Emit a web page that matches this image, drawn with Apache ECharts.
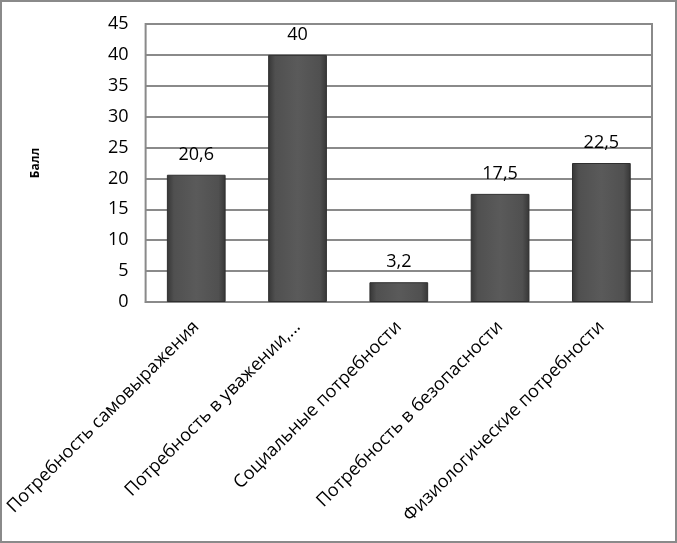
<!DOCTYPE html>
<html>
<head>
<meta charset="utf-8">
<script src="https://cdn.jsdelivr.net/npm/echarts@6/dist/echarts.min.js"></script>
<style>
  html, body { margin: 0; padding: 0; background: #fff; }
  #chart { width: 677px; height: 543px; box-sizing: border-box; border: 2px solid #8a8a8a; }
</style>
</head>
<body>
<div id="chart"></div>
<script>
// данные диаграммы
const categories = [
  'Потребность самовыражения',
  'Потребность в уважении,...',
  'Социальные потребности',
  'Потребность в безопасности',
  'Физиологические потребности'
]
const scores = [20.6, 40, 3.2, 17.5, 22.5]
const axisName = 'Балл'

const font = 'Open Sans'

const chart = echarts.init(document.getElementById('chart'))
const option = {
  animation: false,
  grid: {
    left: 143,
    right: 23,
    top: 22,
    bottom: 239,
    show: true,
    borderColor: '#8a8a8a',
    borderWidth: 2
  },
  xAxis: {
    type: 'category',
    data: categories,
    axisLine: { lineStyle: { color: '#8a8a8a', width: 2 } },
    axisTick: { show: false },
    axisLabel: {
      rotate: 45,
      margin: 22,
      color: '#000',
      fontFamily: font,
      fontSize: 18
    }
  },
  yAxis: {
    type: 'value',
    min: 0,
    max: 45,
    interval: 5,
    name: axisName,
    nameLocation: 'middle',
    nameGap: 104,
    nameTextStyle: { fontFamily: font, fontSize: 12, fontWeight: 'bold', color: '#000' },
    axisLine: { show: false },
    axisTick: { show: false },
    splitLine: { lineStyle: { color: '#8a8a8a', width: 2 } },
    axisLabel: { color: '#000', fontFamily: font, fontSize: 18, margin: 17 }
  },
  series: [
    {
      type: 'bar',
      data: scores,
      barWidth: '58%',
      itemStyle: {
        borderColor: '#2f2f2f',
        borderWidth: 1,
        color: new echarts.graphic.LinearGradient(0, 0, 1, 0, [
          { offset: 0, color: '#363636' },
          { offset: 0.12, color: '#505050' },
          { offset: 0.5, color: '#5a5a5a' },
          { offset: 0.88, color: '#505050' },
          { offset: 1, color: '#363636' }
        ])
      },
      label: {
        show: true,
        position: 'top',
        distance: 11,
        color: '#000',
        fontFamily: font,
        fontSize: 18,
        formatter: p => String(p.value).replace('.', ',')
      }
    }
  ]
}
chart.setOption(option, true)
</script>
</body>
</html>
